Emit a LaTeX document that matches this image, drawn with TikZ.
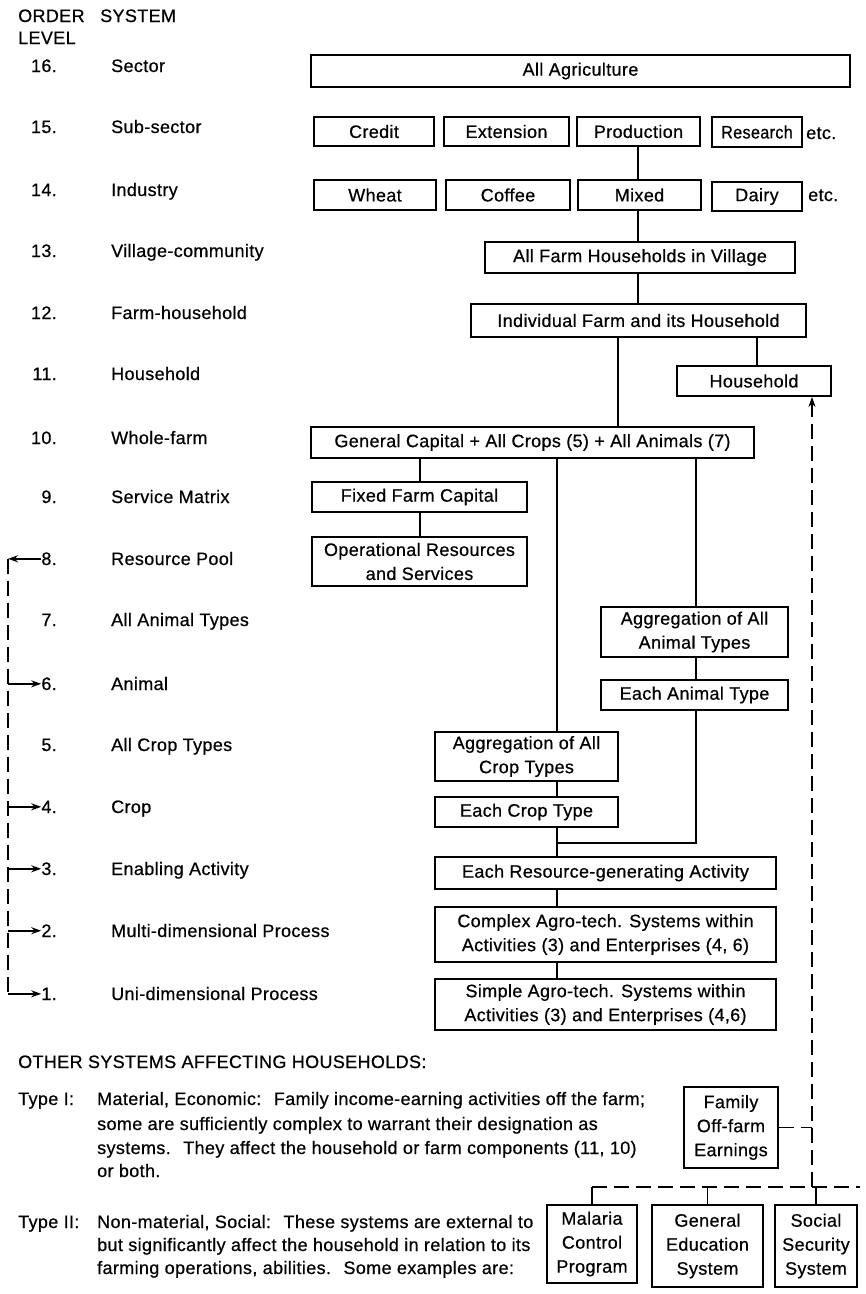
\documentclass[tikz,border=0pt]{standalone}
\usepackage{fontspec}
\usepackage{graphicx}
\setmainfont{Liberation Sans}[FakeBold=0.6, LetterSpace=2]
\usetikzlibrary{arrows.meta,calc}
\begin{document}
\begin{tikzpicture}[x=1pt,y=-1pt,
  every node/.style={font=\fontsize{18}{24}\selectfont, inner sep=0pt},
  box/.style={draw, line width=1.8pt, align=center},
  lbl/.style={anchor=base west},
  num/.style={anchor=base east},
  conn/.style={line width=1.8pt},
  dsh/.style={line width=1.8pt, dash pattern=on 15pt off 7pt},
  arr/.style={-{Stealth[length=10pt,width=7pt]}}
]
\useasboundingbox (0,0) rectangle (866,1294);

% header
\node[lbl] (hOrder) at (18,22) {ORDER};
\node[lbl] (hSystem) at (100,22) {SYSTEM};
\node[lbl] (hLevel) at (18,44) {LEVEL};

% level labels
\foreach \n/\t/\y in {16/Sector/72, 15/Sub-sector/133, 14/Industry/196,
  13/Village-community/257, 12/Farm-household/319, 11/Household/380,
  10/Whole-farm/444, 9/Service Matrix/503, 8/Resource Pool/565,
  7/All Animal Types/626, 6/Animal/690, 5/All Crop Types/751, 4/Crop/813,
  3/Enabling Activity/875, 2/Multi-dimensional Process/937,
  1/Uni-dimensional Process/1000}{
  \node[num] (n\n) at (57,\y) {\n.};
  \node[lbl] (s\n) at (111,\y) {\t};
}

% boxes
\node[box, minimum width=539pt, minimum height=32pt] (agri) at (580.5,71) {All Agriculture};
\node[box, minimum width=120pt, minimum height=29pt] (credit) at (374,131.5) {Credit};
\node[box, minimum width=125pt, minimum height=29pt] (ext) at (506.5,131.5) {Extension};
\node[box, minimum width=123pt, minimum height=29pt] (prod) at (638.5,131.5) {Production};
\node[box, minimum width=90pt, minimum height=30pt] (res) at (757,132) {\scalebox{0.9}[1]{Research}};
\node[lbl] (etc15) at (806,139) {etc.};
\node[box, minimum width=122pt, minimum height=30pt] (wheat) at (375,195) {Wheat};
\node[box, minimum width=124pt, minimum height=30pt] (coffee) at (508,195) {Coffee};
\node[box, minimum width=123pt, minimum height=30pt] (mixed) at (639.5,195) {Mixed};
\node[box, minimum width=90pt, minimum height=29pt] (dairy) at (757,196.5) {Dairy};
\node[lbl] (etc14) at (808,201) {etc.};
\node[box, minimum width=310pt, minimum height=31pt] (village) at (640,257.5) {All Farm Households in Village};
\node[box, minimum width=335pt, minimum height=33pt] (indiv) at (638.5,320.5) {Individual Farm and its Household};
\node[box, minimum width=154pt, minimum height=30pt] (hh) at (754,381) {Household};
\node[box, minimum width=443pt, minimum height=31pt] (whole) at (532.5,442.5) {General Capital + All Crops (5) + All Animals (7)};
\node[box, minimum width=215pt, minimum height=30pt] (fixed) at (419.5,497) {Fixed Farm Capital};
\node[box, minimum width=215pt, minimum height=49pt] (oper) at (419.5,561.5) {Operational Resources\\and Services};
\node[box, minimum width=187pt, minimum height=50pt] (aggA) at (694.5,632) {Aggregation of All\\Animal Types};
\node[box, minimum width=187pt, minimum height=30pt] (eachA) at (694.5,695) {Each Animal Type};
\node[box, minimum width=183pt, minimum height=49pt] (aggC) at (526.5,756.5) {Aggregation of All\\Crop Types};
\node[box, minimum width=183pt, minimum height=30pt] (eachC) at (526.5,812) {Each Crop Type};
\node[box, minimum width=341pt, minimum height=32pt] (resgen) at (605.5,873) {Each Resource-generating Activity};
\node[box, minimum width=341pt, minimum height=55pt] (complex) at (605.5,934.5) {Complex Agro-tech. Systems within\\Activities (3) and Enterprises (4, 6)};
\node[box, minimum width=341pt, minimum height=51pt] (simple) at (605.5,1004.5) {Simple Agro-tech. Systems within\\Activities (3) and Enterprises (4,6)};
\node[box, minimum width=94pt, minimum height=81pt] (family) at (731,1127.5) {Family\\Off-farm\\Earnings};
\node[box, minimum width=90pt, minimum height=78pt] (malaria) at (592,1244) {Malaria\\Control\\Program};
\node[box, minimum width=111pt, minimum height=82pt] (geneduc) at (707.5,1246) {General\\Education\\System};
\node[box, minimum width=82pt, minimum height=82pt] (social) at (816,1246) {Social\\Security\\System};

% column coordinates
\coordinate (colP) at (638,0);
\coordinate (colH) at (757,0);
\coordinate (col10) at (618,0);
\coordinate (col9) at (420,0);
\coordinate (colC) at (557,0);
\coordinate (colA) at (696,0);
\coordinate (colD) at (812,0);
\coordinate (colL) at (8,0);
\coordinate (join) at (557,843);
\coordinate (hlL) at (592,1187);
\coordinate (hlR) at (860,1187);

% connectors
\draw[conn] (prod.south -| colP) -- (mixed.north -| colP);
\draw[conn] (mixed.south -| colP) -- (village.north -| colP);
\draw[conn] (village.south -| colP) -- (indiv.north -| colP);
\draw[conn] (indiv.south -| colH) -- (hh.north -| colH);
\draw[conn] (indiv.south -| col10) -- (whole.north -| col10);
\draw[conn] (whole.south -| col9) -- (fixed.north -| col9);
\draw[conn] (fixed.south -| col9) -- (oper.north -| col9);
\draw[conn] (whole.south -| colC) -- (aggC.north -| colC);
\draw[conn] (whole.south -| colA) -- (aggA.north -| colA);
\draw[conn] (aggA.south -| colA) -- (eachA.north -| colA);
\draw[conn] (aggC.south -| colC) -- (eachC.north -| colC);
\draw[conn] (eachC.south -| colC) -- (resgen.north -| colC);
\draw[conn] (eachA.south -| colA) |- (join);
\draw[conn] (resgen.south -| colC) -- (complex.north -| colC);
\draw[conn] (complex.south -| colC) -- (simple.north -| colC);

% left dashed feedback
\draw[dsh] (colL |- n8.west) -- (colL |- n1.west);
\draw[conn, arr] (n8.west) -- (colL |- n8.west);
\foreach \k in {6,4,3,2,1}{
  \draw[conn, arr] (colL |- n\k.west) -- (n\k.west);
}

% right dashed link
\draw[dsh] (hlL) -- (hlR);
\draw[conn] (hlL) -- (malaria.north);
\draw[conn] (geneduc.north |- hlL) -- (geneduc.north);
\draw[conn] (social.north |- hlL) -- (social.north);
\draw[dsh, arr] (colD |- hlL) -- (colD |- hh.south);
\draw[dsh] (family.east) -- (family.east -| colD);

% bottom text
\node[lbl] (other) at (18,1068) {OTHER SYSTEMS AFFECTING HOUSEHOLDS:};
\node[lbl] (t1) at (18,1105) {Type I:};
\node[lbl] (t1a) at (97,1105) {Material, Economic:~ Family income-earning activities off the farm;};
\node[lbl] (t1b) at (97,1130) {some are sufficiently complex to warrant their designation as};
\node[lbl] (t1c) at (97,1154) {systems.~ They affect the household or farm components (11, 10)};
\node[lbl] (t1d) at (97,1177) {or both.};
\node[lbl] (t2) at (18,1228) {Type II:};
\node[lbl] (t2a) at (97,1228) {Non-material, Social:~ These systems are external to};
\node[lbl] (t2b) at (97,1251) {but significantly affect the household in relation to its};
\node[lbl] (t2c) at (97,1274) {farming operations, abilities.~ Some examples are:};
\end{tikzpicture}
\end{document}
